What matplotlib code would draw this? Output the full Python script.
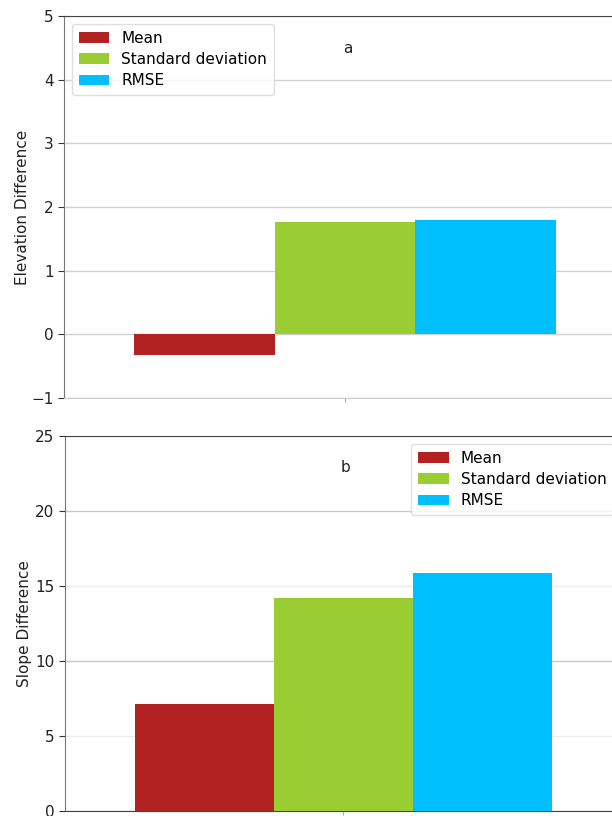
import matplotlib
matplotlib.use("Agg")
import matplotlib.pyplot as plt
import numpy as np

series = ["Mean", "Standard deviation", "RMSE"]
colors = ["#B22222", "#9ACD32", "#00BFFF"]
elev_vals = [-0.33, 1.76, 1.79]
slope_vals = [7.15, 14.2, 15.85]
elev_ticks = [-1, 0, 1, 2, 3, 4, 5]
slope_ticks = [0, 5, 10, 15, 20, 25]

W, H = 612, 816
fig = plt.figure(figsize=(W / 100, H / 100), dpi=100)

def add_axes(l, r, t, b):
    return fig.add_axes([l / W, 1 - b / H, (r - l) / W, (b - t) / H])

ax1 = add_axes(64, 626, 16, 398)
ax2 = add_axes(65, 621, 436, 811)

w = 0.25
offsets = [-w, 0, w]

def draw(ax, vals, ticks, ylabel, tag, legloc):
    for off, v, c, s in zip(offsets, vals, colors, series):
        ax.bar(off, v, width=w, color=c, label=s, zorder=3)
    ax.set_xlim(-0.5, 0.5)
    ax.set_ylim(ticks[0], ticks[-1])
    ax.set_yticks(ticks)
    ax.set_yticklabels([("\u2212" + str(-t)) if t < 0 else str(t) for t in ticks])
    ax.set_xticks([0])
    ax.set_xticklabels([""])
    ax.yaxis.grid(True, color="#d0d0d0", linewidth=1.0)
    ax.set_axisbelow(True)
    ax.tick_params(axis="y", labelsize=11, colors="#333333", length=4, width=0.8)
    ax.tick_params(axis="x", length=3, width=0.6, colors="#999999")
    for lab in ax.get_yticklabels():
        lab.set_color("#222222")
    ax.set_ylabel(ylabel, fontsize=11, color="#222222")
    ax.yaxis.set_label_coords(-0.06, 0.5)
    ax.spines["top"].set_color("#444444")
    ax.spines["left"].set_color("#777777")
    ax.spines["right"].set_visible(False)
    ax.text(0.505, 0.915, tag, transform=ax.transAxes, ha="center", va="center",
            fontsize=11, color="#222222")
    leg = ax.legend(loc=legloc, fontsize=11, frameon=True, fancybox=True,
                    handlelength=2.0, borderpad=0.45, labelspacing=0.42,
                    borderaxespad=0.5)
    leg.get_frame().set_edgecolor("#d8d8d8")
    return ax

draw(ax1, elev_vals, elev_ticks, "Elevation Difference", "a", "upper left")
ax1.spines["bottom"].set_color("#cccccc")
draw(ax2, slope_vals, slope_ticks, "Slope Difference", "b", "upper right")
ax2.spines["bottom"].set_color("#444444")
for t, gl in zip(slope_ticks, ax2.yaxis.get_gridlines()):
    gl.set_color("#c8c8c8" if t % 10 == 0 else "#ececec")

fig.savefig("out.png", dpi=100)
